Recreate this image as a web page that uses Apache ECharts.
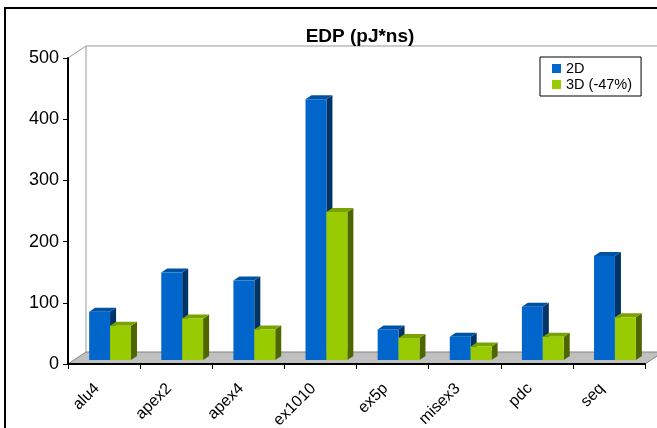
<!DOCTYPE html>
<html>
<head>
<meta charset="utf-8">
<script src="https://cdn.jsdelivr.net/npm/echarts@6/dist/echarts.min.js"></script>
<style>
  html, body { margin: 0; padding: 0; background: #fff; }
  #chart { width: 657px; height: 428px; }
</style>
</head>
<body>
<div id="chart"></div>
<script>
// EDP per benchmark, 2D vs 3D
const categories = ["alu4", "apex2", "apex4", "ex1010", "ex5p", "misex3", "pdc", "seq"];
const edp2D = [79, 143, 130, 426, 50, 38, 87, 170];
const edp3D = [56, 68, 50, 242, 36, 22, 38, 70];
const seriesNames = ["2D", "3D (-47%)"];
const yMin = 0, yMax = 500, yStep = 100;

const FONT = "Liberation Sans, Arial, sans-serif";
// depth of the floor / back wall (px), bars sit a third of the way in
const DEPTH = [18, -12];
const faces = [
  { front: "#0066CC", top: "#0052A3", side: "#003366" },
  { front: "#99CC00", top: "#7AA300", side: "#4D6600" },
];

const chart = echarts.init(document.getElementById("chart"), null, { renderer: "canvas" });

function renderFrame(params, api) {
  const cs = params.coordSys;
  const x = cs.x, y = cs.y, w = cs.width, h = cs.height;
  const [dx, dy] = DEPTH;
  const grey = "#999999";
  return {
    type: "group",
    children: [
      {
        type: "polygon",
        shape: { points: [[x, y + h], [x + w, y + h], [x + w + dx, y + h + dy], [x + dx, y + h + dy]] },
        style: { fill: "#C0C0C0", stroke: "#808080", lineWidth: 1 },
      },
      { type: "polyline", shape: { points: [[x + dx, y + h + dy], [x + dx, y + dy], [x + w + dx + 20, y + dy]] },
        style: { stroke: grey, lineWidth: 1, fill: null } },
      { type: "line", shape: { x1: x, y1: y, x2: x + dx, y2: y + dy }, style: { stroke: grey, lineWidth: 1 } },
    ],
  };
}

function makeBarRenderer(k) {
  return function (params, api) {
    const i = api.value(0);
    const v = api.value(1);
    const band = api.size([1, 0])[0];
    const base = api.coord([i, 0]);
    const top = api.coord([i, v]);
    const sx = DEPTH[0] / 3, sy = DEPTH[1] / 3;
    const bx = DEPTH[0] / 3, by = DEPTH[1] / 3;
    const bw = band * 0.29;
    const x0 = base[0] - bw + k * bw + sx;
    const x1 = x0 + bw;
    const yb = base[1] + sy, yt = top[1] + sy;
    const c = faces[k];
    return {
      type: "group",
      children: [
        { type: "polygon", shape: { points: [[x1, yt], [x1, yb], [x1 + bx, yb + by], [x1 + bx, yt + by]] },
          style: { fill: c.side } },
        { type: "polygon", shape: { points: [[x0, yt], [x1, yt], [x1 + bx, yt + by], [x0 + bx, yt + by]] },
          style: { fill: c.top } },
        { type: "rect", shape: { x: x0, y: yt, width: bw, height: yb - yt }, style: { fill: c.front } },
      ],
    };
  };
}

chart.setOption({
  backgroundColor: "#ffffff",
  animation: false,
  grid: { left: 68, right: 12, top: 58, bottom: 64, containLabel: false, outerBoundsMode: "none" },
  graphic: [
    { type: "polyline", silent: true, z: 100,
      shape: { points: [[5, 428], [5, 8], [657, 8]] },
      style: { stroke: "#000", lineWidth: 2, fill: null } },
    { type: "text", silent: true, z: 100,
      style: { text: "EDP (pJ*ns)", x: 360, y: 27, align: "center", verticalAlign: "top",
               font: "bold 19px " + FONT, fill: "#000" } },
  ],
  legend: {
    data: seriesNames,
    orient: "vertical",
    left: 540, top: 57,
    icon: "rect",
    itemWidth: 9, itemHeight: 9,
    itemGap: 1,
    padding: [4, 9, 4, 12],
    borderColor: "#000", borderWidth: 1,
    textStyle: { fontSize: 14.5, color: "#000", fontFamily: FONT },
  },
  xAxis: {
    type: "category",
    data: categories,
    axisLine: { lineStyle: { color: "#000", width: 2 } },
    axisTick: { show: true, length: 5, lineStyle: { color: "#000" } },
    axisLabel: { rotate: 45, color: "#000", fontSize: 16, fontFamily: FONT, margin: 15,
                 padding: [0, 10, 0, 0], interval: 0 },
    splitLine: { show: false },
  },
  yAxis: {
    type: "value",
    min: yMin, max: yMax, interval: yStep,
    axisLine: { show: true, lineStyle: { color: "#000", width: 2 } },
    axisTick: { show: true, length: 5, lineStyle: { color: "#000" } },
    axisLabel: { color: "#000", fontSize: 18, fontFamily: FONT, margin: 9 },
    splitLine: { show: false },
  },
  series: [
    { type: "custom", name: "frame", z: -1, silent: true, renderItem: renderFrame, data: [[0, 0]] },
    { type: "custom", name: seriesNames[0], itemStyle: { color: faces[0].front },
      renderItem: makeBarRenderer(0), data: categories.map((c, i) => [i, edp2D[i]]) },
    { type: "custom", name: seriesNames[1], itemStyle: { color: faces[1].front },
      renderItem: makeBarRenderer(1), data: categories.map((c, i) => [i, edp3D[i]]) },
  ],
});
</script>
</body>
</html>
